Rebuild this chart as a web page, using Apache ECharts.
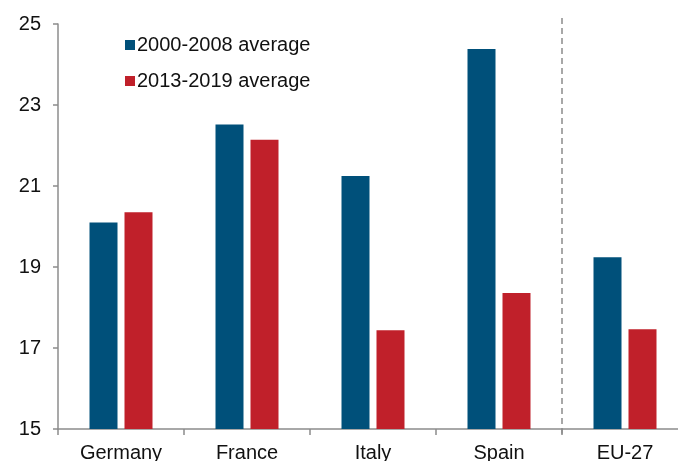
<!DOCTYPE html>
<html>
<head>
<meta charset="utf-8">
<script src="https://cdn.jsdelivr.net/npm/echarts@6/dist/echarts.min.js"></script>
<style>
  html, body { margin: 0; padding: 0; background: #fff; }
  #chart { width: 678px; height: 461px; }
</style>
</head>
<body>
<div id="chart"></div>
<script>
const categories = ['Germany', 'France', 'Italy', 'Spain', 'EU-27']
const avg2000_2008 = [20.1, 22.52, 21.25, 24.38, 19.24]
const avg2013_2019 = [20.35, 22.14, 17.44, 18.36, 17.46]
const yTicks = { min: 15, max: 25, interval: 2 }
// divider before EU-27, in category units, drawn a bit past both ends of the y range
const divider = [[4, 25.15], [4, 14.88]]

const axisGrey = '#8c8c8c'
const font = 'Arial, "Liberation Sans", sans-serif'

const chart = echarts.init(document.getElementById('chart'))

chart.setOption({
  animation: false,
  textStyle: { fontFamily: font },
  // plot runs past the right edge, last category is cut off like in the source
  grid: { left: 58, width: 630, top: 24, bottom: 32, outerBoundsMode: 'none' },
  legend: {
    data: ['2000-2008 average', '2013-2019 average'],
    orient: 'vertical',
    left: 120,
    top: 30,
    itemWidth: 10,
    itemHeight: 10,
    itemGap: 16,
    icon: 'rect',
    textStyle: { fontSize: 20, color: '#111', fontFamily: font, padding: [0, 0, 0, -3] }
  },
  xAxis: [
    {
      type: 'category',
      data: categories,
      axisLine: { lineStyle: { color: axisGrey, width: 1.5 } },
      axisTick: { show: true, length: 6, lineStyle: { color: axisGrey, width: 1.5 } },
      axisLabel: { fontSize: 20, color: '#111', margin: 14, fontFamily: font }
    },
    {
      type: 'value',
      min: 0,
      max: categories.length,
      show: false
    }
  ],
  yAxis: {
    type: 'value',
    min: yTicks.min,
    max: yTicks.max,
    interval: yTicks.interval,
    axisLine: { show: true, lineStyle: { color: axisGrey, width: 1.5 } },
    axisTick: { show: true, length: 5, lineStyle: { color: axisGrey, width: 1.5 } },
    axisLabel: { fontSize: 20, color: '#111', margin: 17, fontFamily: font },
    splitLine: { show: false }
  },
  series: [
    {
      name: '2000-2008 average',
      type: 'bar',
      data: avg2000_2008,
      barWidth: 28,
      barGap: '25%',
      itemStyle: { color: '#00507a' }
    },
    {
      name: '2013-2019 average',
      type: 'bar',
      data: avg2013_2019,
      barWidth: 28,
      itemStyle: { color: '#c0202a' }
    },
    {
      name: 'divider',
      type: 'line',
      xAxisIndex: 1,
      data: divider,
      symbol: 'none',
      clip: false,
      silent: true,
      z: 1,
      lineStyle: { color: axisGrey, type: [6, 4], width: 1.5 }
    }
  ]
})
</script>
</body>
</html>
